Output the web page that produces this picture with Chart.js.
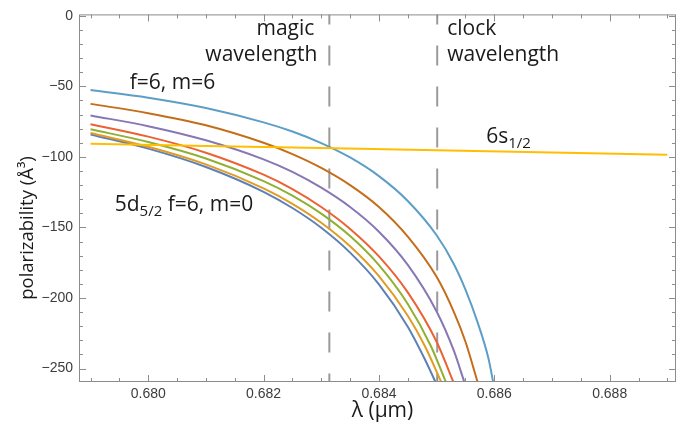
<!DOCTYPE html>
<html>
<head>
<meta charset="utf-8">
<script src="https://cdn.jsdelivr.net/npm/chart.js@4.4.1/dist/chart.umd.min.js"></script>
<style>
    html, body { margin: 0; padding: 0; background: #fff; }
    #wrap { width: 677px; height: 424px; position: relative; }
</style>
</head>
<body>
<div id="wrap"><canvas id="mainChart"></canvas></div>
<script>
// 5d5/2 f=6 sublevels, m = 6 ... 0 (in Å^3)
const lamM6 = [0.6790, 0.6800, 0.6810, 0.6820, 0.6825, 0.6830, 0.6835, 0.6840, 0.6845, 0.6850, 0.6853, 0.6855, 0.6857, 0.6859, 0.68598];
const alphaM6 = [-52.6, -58.0, -65.3, -75.5, -82.0, -90.2, -100.4, -113.6, -131.2, -155.5, -176.0, -194.0, -216.0, -243.0, -259.5];

const lamM5 = [0.6790, 0.6800, 0.6810, 0.6820, 0.6825, 0.6830, 0.6835, 0.6840, 0.6845, 0.6850, 0.6853, 0.6855, 0.68571];
const alphaM5 = [-62.4, -69.0, -77.6, -90.0, -98.0, -107.8, -120.0, -135.5, -156.5, -185.0, -210.0, -231.0, -259.5];

const lamM4 = [0.6790, 0.6800, 0.6810, 0.6820, 0.6825, 0.6830, 0.6835, 0.6840, 0.6845, 0.6850, 0.6853, 0.68548];
const alphaM4 = [-70.6, -78.2, -88.2, -101.7, -110.6, -121.8, -135.5, -153.0, -176.5, -209.5, -237.5, -259.5];

const lamM3 = [0.6790, 0.6800, 0.6810, 0.6820, 0.6825, 0.6830, 0.6835, 0.6840, 0.6845, 0.6850, 0.68529];
const alphaM3 = [-76.8, -85.6, -97.0, -112.6, -122.8, -135.5, -151.0, -170.5, -196.0, -231.0, -259.5];

const lamM2 = [0.6790, 0.6800, 0.6810, 0.6820, 0.6825, 0.6830, 0.6835, 0.6840, 0.6845, 0.6849, 0.68516];
const alphaM2 = [-80.4, -89.4, -101.1, -117.1, -127.4, -140.2, -156.1, -176.7, -204.2, -234.0, -259.5];

const lamM1 = [0.6790, 0.6800, 0.6810, 0.6820, 0.6825, 0.6830, 0.6835, 0.6840, 0.6845, 0.6848, 0.68508];
const alphaM1 = [-83.0, -92.8, -105.3, -122.3, -133.2, -146.6, -163.3, -184.5, -212.6, -234.3, -259.5];

const lamM0 = [0.6790, 0.6800, 0.6810, 0.6820, 0.6825, 0.6830, 0.6835, 0.6840, 0.6845, 0.6848, 0.68498];
const alphaM0 = [-84.1, -94.1, -107.1, -124.7, -136.2, -150.2, -167.8, -190.3, -220.3, -243.7, -259.5];

// 6s1/2 ground state
const lam6s = [0.679, 0.681, 0.683, 0.685, 0.687, 0.689];
const alpha6s = [-90.7, -92.2, -93.7, -95.3, -96.9, -98.5];

const magicLambda = 0.68314;
const clockLambda = 0.68501;

const xTickValues = [0.680, 0.682, 0.684, 0.686, 0.688];
const yTickValues = [0, -50, -100, -150, -200, -250];

const X_MIN = 0.6788, X_MAX = 0.68915;
const Y_MIN = -259.5, Y_MAX = 1;

const toPoints = (lams, vals) => lams.map((l, i) => ({ x: l, y: vals[i] }));

const curves = [
    { lam: lamM6, alpha: alphaM6, color: '#5D9EC7' },
    { lam: lamM5, alpha: alphaM5, color: '#C56E1A' },
    { lam: lamM4, alpha: alphaM4, color: '#8778B3' },
    { lam: lamM3, alpha: alphaM3, color: '#EB6235' },
    { lam: lamM2, alpha: alphaM2, color: '#8FB032' },
    { lam: lamM1, alpha: alphaM1, color: '#E09C24' },
    { lam: lamM0, alpha: alphaM0, color: '#5E81B5' }
];

const datasets = curves.map((c, i) => ({
    data: toPoints(c.lam, c.alpha),
    borderColor: c.color,
    borderWidth: 2,
    showLine: true,
    pointRadius: 0,
    cubicInterpolationMode: 'monotone',
    order: 2 + i
}));

datasets.push({
    data: toPoints(lam6s, alpha6s),
    borderColor: '#FFBF00',
    borderWidth: 2,
    showLine: true,
    pointRadius: 0,
    order: 0
});

[magicLambda, clockLambda].forEach(l => {
    datasets.push({
        data: [{ x: l, y: Y_MAX }, { x: l, y: Y_MIN }],
        borderColor: '#9a9a9a',
        borderWidth: 2,
        borderDash: [20, 21],
        borderDashOffset: 10,
        showLine: true,
        pointRadius: 0,
        order: 20
    });
});

// text on the plot, anchored in data coordinates
const notes = [
    { parts: [['f=6, m=6', false]], lam: 0.67968, alpha: -47.6 },
    { parts: [['6s', false], ['1/2', true]], lam: 0.68586, alpha: -85.6 },
    { parts: [['5d', false], ['5/2', true], [' f=6, m=0', false]], lam: 0.67942, alpha: -134.2 }
];

const MAIN_FONT = '21px "Open Sans"';
const SUB_FONT = '15px "Open Sans"';
const TICK_FONT = { family: '"Liberation Sans", Arial, sans-serif', size: 14 };

function drawRich(ctx, parts, x, y) {
    let cx = x;
    parts.forEach(([text, sub]) => {
        ctx.font = sub ? SUB_FONT : MAIN_FONT;
        ctx.fillText(text, cx, sub ? y + 7 : y);
        cx += ctx.measureText(text).width;
    });
}

const frameAndTicks = {
    id: 'frameAndTicks',
    afterDatasetsDraw(chart) {
        const { ctx, chartArea: a, scales: { x, y } } = chart;
        ctx.save();
        ctx.strokeStyle = '#8c8c8c';
        ctx.lineWidth = 1;
        ctx.strokeRect(a.left + 0.5, a.top + 0.5, a.right - a.left - 1, a.bottom - a.top - 1);

        ctx.beginPath();
        for (let k = 0; k <= 20; k++) {
            const v = 0.6790 + k * 0.0005;
            const major = xTickValues.some(t => Math.abs(t - v) < 1e-7);
            const len = major ? 7 : 4;
            const px = Math.round(x.getPixelForValue(v)) + 0.5;
            ctx.moveTo(px, a.bottom);
            ctx.lineTo(px, a.bottom - len);
            ctx.moveTo(px, a.top);
            ctx.lineTo(px, a.top + len);
        }
        for (let v = 0; v >= -250; v -= 10) {
            const major = yTickValues.includes(v);
            const len = major ? 7 : 4;
            const py = Math.round(y.getPixelForValue(v)) + 0.5;
            ctx.moveTo(a.left, py);
            ctx.lineTo(a.left + len, py);
            ctx.moveTo(a.right, py);
            ctx.lineTo(a.right - len, py);
        }
        ctx.stroke();
        ctx.restore();
    },
    afterDraw(chart) {
        const { ctx, chartArea: a, scales: { x, y } } = chart;
        ctx.save();
        ctx.fillStyle = '#1a1a1a';
        ctx.textBaseline = 'middle';

        // vertical line captions
        const magicPx = x.getPixelForValue(magicLambda);
        const clockPx = x.getPixelForValue(clockLambda);
        ctx.font = MAIN_FONT;
        ctx.textAlign = 'right';
        ctx.fillText('magic', magicPx - 15, a.top + 15);
        ctx.fillText('wavelength', magicPx - 12, a.top + 41);
        ctx.textAlign = 'left';
        ctx.fillText('clock', clockPx + 10, a.top + 15);
        ctx.fillText('wavelength', clockPx + 10, a.top + 41);

        notes.forEach(n => {
            drawRich(ctx, n.parts, x.getPixelForValue(n.lam), y.getPixelForValue(n.alpha));
        });

        // axis titles
        ctx.textAlign = 'center';
        ctx.font = '21px "Open Sans"';
        ctx.fillText('λ (μm)', (a.left + a.right) / 2 + 5, 411);
        ctx.translate(28, 228);
        ctx.rotate(-Math.PI / 2);
        ctx.font = '18.5px "Open Sans"';
        ctx.fillText('polarizability (Å³)', 0, 0);
        ctx.restore();
    }
};

const ctx = document.getElementById('mainChart').getContext('2d');
new Chart(ctx, {
    type: 'scatter',
    data: { datasets: datasets },
    options: {
        responsive: true,
        maintainAspectRatio: false,
        animation: false,
        devicePixelRatio: 1,
        layout: { padding: { top: 12, right: 1, left: 0, bottom: 0 } },
        plugins: {
            legend: { display: false },
            tooltip: { enabled: false }
        },
        scales: {
            x: {
                type: 'linear',
                min: X_MIN,
                max: X_MAX,
                grid: { display: false, drawTicks: false },
                border: { display: false },
                afterBuildTicks: s => { s.ticks = xTickValues.map(v => ({ value: v })); },
                afterFit: s => { s.height = 42; },
                ticks: {
                    autoSkip: false,
                    maxRotation: 0,
                    padding: 4,
                    color: '#3c3c3c',
                    font: TICK_FONT,
                    callback: v => v.toFixed(3)
                }
            },
            y: {
                type: 'linear',
                min: Y_MIN,
                max: Y_MAX,
                grid: { display: false, drawTicks: false },
                border: { display: false },
                afterBuildTicks: s => { s.ticks = yTickValues.map(v => ({ value: v })); },
                afterFit: s => { s.width = 79; },
                ticks: {
                    autoSkip: false,
                    padding: 6,
                    color: '#3c3c3c',
                    font: TICK_FONT,
                    callback: v => v === 0 ? '0' : '\u2212' + Math.abs(v)
                }
            }
        }
    },
    plugins: [frameAndTicks]
});
</script>
</body>
</html>
